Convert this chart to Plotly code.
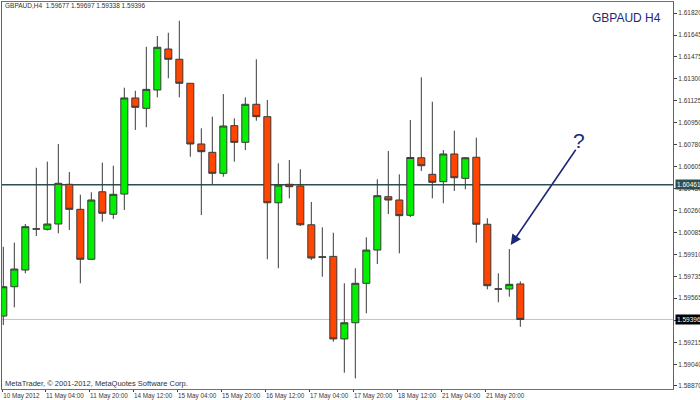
import plotly.graph_objects as go

symbol = "GBPAUD,H4"
opens = [1.59423, 1.59655, 1.59787, 1.60113, 1.60109, 1.60151, 1.60465, 1.60267, 1.59872, 1.60406,
         1.60228, 1.60388, 1.61148, 1.61066, 1.61211, 1.61535, 1.61454, 1.61264, 1.60784, 1.60718,
         1.60552, 1.60929, 1.60797, 1.61098, 1.61000, 1.60319, 1.60465, 1.60452, 1.60145, 1.59888,
         1.59895, 1.59242, 1.59370, 1.59682, 1.59945, 1.60367, 1.60341, 1.60220, 1.60675, 1.60544,
         1.60486, 1.60705, 1.60512, 1.60679, 1.60149, 1.59638, 1.59637, 1.59677]
highs = [1.59971, 1.60003, 1.60151, 1.60596, 1.60644, 1.60784, 1.60562, 1.60383, 1.60402, 1.60636,
         1.60612, 1.61229, 1.61205, 1.61553, 1.61638, 1.61664, 1.61759, 1.61266, 1.60908, 1.61000,
         1.61179, 1.60987, 1.61153, 1.61454, 1.61132, 1.60631, 1.60657, 1.60584, 1.60325, 1.60125,
         1.60082, 1.59682, 1.59801, 1.60046, 1.60505, 1.60728, 1.60544, 1.60974, 1.61311, 1.61118,
         1.60736, 1.60889, 1.60680, 1.60834, 1.60196, 1.59761, 1.59953, 1.59697]
lows = [1.59352, 1.59492, 1.59761, 1.60056, 1.60100, 1.60077, 1.60104, 1.59682, 1.59868, 1.60169,
        1.60191, 1.60262, 1.60895, 1.60916, 1.61153, 1.61304, 1.61153, 1.60683, 1.60222, 1.60467,
        1.60525, 1.60644, 1.60736, 1.60968, 1.59872, 1.59801, 1.60354, 1.60135, 1.59866, 1.59734,
        1.59220, 1.58975, 1.58930, 1.59445, 1.59835, 1.60230, 1.59919, 1.60206, 1.60570, 1.60354,
        1.60315, 1.60412, 1.60425, 1.60003, 1.59634, 1.59532, 1.59576, 1.59338]
closes = [1.59655, 1.59795, 1.60130, 1.60111, 1.60151, 1.60473, 1.60267, 1.59872, 1.60341, 1.60236,
          1.60386, 1.61148, 1.61074, 1.61216, 1.61549, 1.61454, 1.61264, 1.60784, 1.60723, 1.60552,
          1.60926, 1.60797, 1.61098, 1.61000, 1.60319, 1.60459, 1.60446, 1.60145, 1.59882, 1.59891,
          1.59242, 1.59370, 1.59682, 1.59945, 1.60375, 1.60341, 1.60217, 1.60677, 1.60612, 1.60481,
          1.60705, 1.60517, 1.60675, 1.60149, 1.59663, 1.59636, 1.59674, 1.59396]
bars = list(range(len(opens)))

date_tick_bars = [0, 4, 8, 12, 16, 20, 24, 28, 32, 36, 40, 44]
date_tick_labels = ["10 May 2012", "11 May 04:00", "11 May 20:00", "14 May 12:00", "15 May 04:00",
                    "15 May 20:00", "16 May 12:00", "17 May 04:00", "17 May 20:00", "18 May 12:00",
                    "21 May 04:00", "21 May 20:00"]
price_ticks = [1.61820, 1.61645, 1.61475, 1.61300, 1.61125, 1.60950, 1.60780, 1.60605, 1.60430,
               1.60260, 1.60085, 1.59910, 1.59735, 1.59565, 1.59390, 1.59215, 1.59040, 1.58870]
level_line = 1.60461
bid_line = 1.59396

FONT = "Liberation Sans, Arial, sans-serif"
NAVY = "#1c2a78"

fig = go.Figure()
fig.add_trace(go.Candlestick(
    x=bars, open=opens, high=highs, low=lows, close=closes,
    increasing=dict(fillcolor="#00f000", line=dict(color="#3a3a3a", width=1)),
    decreasing=dict(fillcolor="#ff4500", line=dict(color="#3a3a3a", width=1)),
    whiskerwidth=0, hoverinfo="skip", showlegend=False,
))

fig.add_shape(type="line", xref="paper", x0=0, x1=1, yref="y", y0=level_line, y1=level_line,
              line=dict(color="#2f4f4f", width=1.5), layer="below")
fig.add_shape(type="line", xref="paper", x0=0, x1=1, yref="y", y0=bid_line, y1=bid_line,
              line=dict(color="#c4c4c4", width=1), layer="below")

tickvals_x = [max(b - 0.2, -0.1) for b in date_tick_bars]

fig.update_layout(
    width=700, height=400,
    margin=dict(l=2, r=27, t=2, b=11),
    paper_bgcolor="white", plot_bgcolor="white",
    font=dict(family=FONT, size=7, color="#303030"),
    boxgap=0.2, boxgroupgap=0.2,
    showlegend=False,
    xaxis=dict(
        range=[-0.12, 60.88], rangeslider=dict(visible=False),
        tickvals=tickvals_x, ticktext=date_tick_labels, tickangle=0,
        ticks="outside", ticklen=2, tickcolor="#404040", ticklabelposition="outside right",
        showgrid=False, zeroline=False, showline=True, mirror=True, linecolor="#707070", linewidth=1,
        tickfont=dict(size=6.3, color="#383838", family=FONT), automargin=False,
    ),
    yaxis=dict(
        side="right", range=[1.58846, 1.61907],
        tickvals=price_ticks, ticktext=[f"{v:.5f}" for v in price_ticks],
        ticks="outside", ticklen=3, tickcolor="#404040",
        showgrid=False, zeroline=False, showline=True, mirror=True, linecolor="#606060", linewidth=1,
        tickfont=dict(size=6.5, color="#383838", family=FONT), automargin=False,
    ),
)

header = f"{symbol}  {opens[-1]:.5f} {highs[-1]:.5f} {lows[-1]:.5f} {closes[-1]:.5f}"
fig.add_annotation(text=header, xref="paper", yref="paper", x=0.0015, y=0.99,
                   xanchor="left", yanchor="middle", showarrow=False,
                   font=dict(size=6.5, color="#303030", family=FONT))
fig.add_annotation(text="MetaTrader, © 2001-2012, MetaQuotes Software Corp.", xref="paper", yref="paper",
                   x=0.001, y=0.0155, xanchor="left", yanchor="middle", showarrow=False,
                   font=dict(size=7.5, color="#303030", family=FONT))
fig.add_annotation(text="GBPAUD H4", xref="paper", yref="paper", x=0.985, y=0.9587,
                   xanchor="right", yanchor="middle", showarrow=False,
                   font=dict(size=12, color=NAVY, family=FONT))
# price labels on the right axis
fig.add_annotation(text=f"{level_line:.5f}", xref="paper", yref="y", x=1.0, y=level_line,
                   xanchor="left", yanchor="middle", showarrow=False, xshift=2,
                   bgcolor="#2f4f4f", borderpad=1, font=dict(size=6.5, color="white", family=FONT))
fig.add_annotation(text=f"{bid_line:.5f}", xref="paper", yref="y", x=1.0, y=bid_line,
                   xanchor="left", yanchor="middle", showarrow=False, xshift=2,
                   bgcolor="#000000", borderpad=1, font=dict(size=6.5, color="white", family=FONT))
# hand-drawn arrow with question mark
fig.add_annotation(x=46.13, y=1.59985, ax=52.13, ay=1.60750, axref="x", ayref="y",
                   xref="x", yref="y", text="", showarrow=True,
                   arrowhead=2, arrowsize=1.3, arrowwidth=1.6, arrowcolor=NAVY)
fig.add_annotation(text="?", x=52.3, y=1.60815, xref="x", yref="y", showarrow=False,
                   font=dict(size=21, color=NAVY, family=FONT))

fig.write_html("out.html", config={"displayModeBar": False},
               post_script="document.body.style.margin='0';")
